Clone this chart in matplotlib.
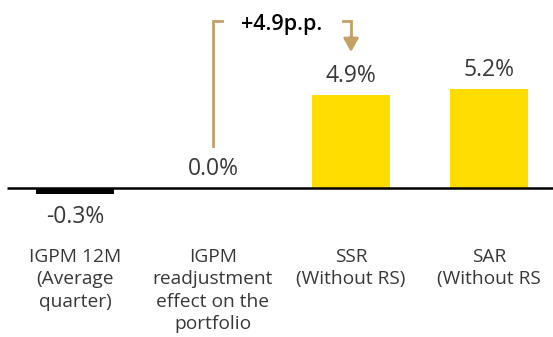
import matplotlib
matplotlib.use("Agg")
import matplotlib.pyplot as plt

categories = ["IGPM 12M\n(Average\nquarter)",
              "IGPM\nreadjustment\neffect on the\nportfolio",
              "SSR\n(Without RS)",
              "SAR\n(Without RS"]
values = [-0.3, 0.0, 4.9, 5.2]
value_labels = ["-0.3%", "0.0%", "4.9%", "5.2%"]
bar_colors = ["#000000", "#000000", "#FFDD00", "#FFDD00"]
delta_label = "+4.9p.p."

W, H = 553, 337
fig = plt.figure(figsize=(W / 100, H / 100), dpi=100)
ax = fig.add_axes([0, 0, 1, 1])

# pixel scale: 138 px per category, 19 px per percentage point
x0_px, base_px, step_px, unit_px = 75, 188, 138, 19
ax.set_xlim(-x0_px / step_px, (W - x0_px) / step_px)
ax.set_ylim(-(H - base_px) / unit_px, base_px / unit_px)
ax.axis("off")

font = "Open Sans"
txt_color = "#383838"
xs = list(range(len(values)))

ax.bar(xs, values, width=0.56, color=bar_colors, zorder=2)
ax.plot([-0.493, (W - x0_px) / step_px], [0, 0], color="black", lw=1.8,
        zorder=3, solid_capstyle="butt")

for x, v, lab in zip(xs, values, value_labels):
    if v < 0:
        ax.annotate(lab, (x, v), xytext=(0, -8), textcoords="offset points",
                    ha="center", va="top", fontsize=16.5, color=txt_color,
                    family=font)
    else:
        ax.annotate(lab, (x, v), xytext=(0, 5), textcoords="offset points",
                    ha="center", va="bottom", fontsize=16.5, color=txt_color,
                    family=font)

for x, cat in zip(xs, categories):
    ax.text(x, -3.17, cat, ha="center", va="top", fontsize=13.8,
            color=txt_color, family=font, linespacing=1.3)

# bracket showing the change between the second and third bars
tan = "#C4A064"
top_y = 8.79
ax.plot([1.065, 1, 1], [top_y, top_y, 2.2], color=tan, lw=2,
        solid_joinstyle="miter", zorder=3)
ax.plot([1.94, 2, 2], [top_y, top_y, 7.9], color=tan, lw=2,
        solid_joinstyle="miter", zorder=3)
ax.annotate("", xy=(2, 7.16), xytext=(2, 8.0),
            arrowprops=dict(arrowstyle="-|>,head_length=0.8,head_width=0.45",
                            color=tan, lw=2, shrinkA=0, shrinkB=0))
ax.text(1.5, 8.62, delta_label, ha="center", va="center", fontsize=15.5,
        color="black", family=font, fontweight="semibold")

fig.savefig("out.png", dpi=100)
